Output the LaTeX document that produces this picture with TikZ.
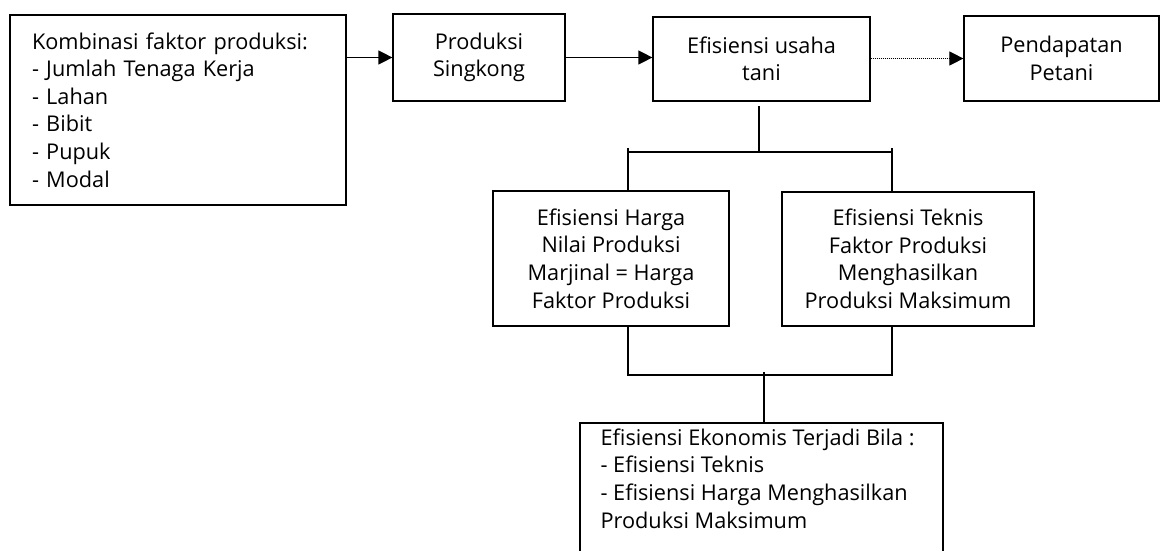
\documentclass[tikz,border=0pt]{standalone}
\usepackage{fontspec}
\setmainfont{Open Sans}
\usetikzlibrary{arrows.meta}
\begin{document}
\begin{tikzpicture}[x=1pt,y=-1pt,
  every path/.style={line width=1.2pt},
  txt/.style={inner sep=0pt,font=\fontsize{21.7}{27.6}\selectfont},
  box/.style={txt,draw,line width=1.2pt},
  arr/.style={-{Triangle[length=14pt,width=14pt]}},
  dotline/.style={arr,line width=1pt,dash pattern=on 1pt off 1pt}]
\useasboundingbox (0,0) rectangle (1160,551);
\node[box,minimum width=336pt,minimum height=190pt,text width=292pt,align=left] (b1) at (178,110)
  {Kombinasi faktor produksi:\\- Jumlah Tenaga Kerja\\- Lahan\\- Bibit\\- Pupuk\\- Modal};
\node[box,minimum width=172pt,minimum height=87pt,align=center] (b2) at (479,57.5) {Produksi\\Singkong};
\node[box,minimum width=217pt,minimum height=84pt,align=center] (b3) at (761.5,59) {Efisiensi usaha\\tani};
\node[box,minimum width=195pt,minimum height=85pt,align=center] (b4) at (1061.5,58.5) {Pendapatan\\Petani};
\node[box,minimum width=236pt,minimum height=135pt,align=center] (b5) at (611,258.5)
  {Efisiensi Harga\\Nilai Produksi\\Marjinal = Harga\\Faktor Produksi};
\node[box,minimum width=252pt,minimum height=134pt,align=center] (b6) at (908,259)
  {Efisiensi Teknis\\Faktor Produksi\\Menghasilkan\\Produksi Maksimum};
% bottom box (its lower edge lies below the picture)
\coordinate (b7tl) at (580,423);
\coordinate (b7tr) at (943,423);
\coordinate (b7bl) at (580,560);
\coordinate (b7br) at (943,560);
\draw (b7bl) -- (b7tl) -- (b7tr) -- (b7br);
\node[txt,anchor=north west,inner ysep=5pt,align=left] (b7) at (600,423)
  {Efisiensi Ekonomis Terjadi Bila :\\- Efisiensi Teknis\\- Efisiensi Harga Menghasilkan\\Produksi Maksimum};
% arrows
\draw[arr] (b1.east |- b2.west) -- (b2.west);
\draw[arr] (b2.east) -- (b2.east -| b3.west);
\draw[dotline] (b3.east |- b4.west) -- (b4.west);
% upper tree
\coordinate (a1) at (759,106);
\coordinate (hl) at (628,152);
\coordinate (hr) at (892,152);
\coordinate (tl) at (628,148);
\coordinate (tr) at (892,148);
\draw (a1) -- (a1 |- hl);
\draw (hl) -- (hr);
\draw (tl) -- (tl |- b5.north);
\draw (tr) -- (tr |- b6.north);
% lower tree
\coordinate (ll) at (628,375);
\coordinate (lr) at (892,375);
\coordinate (m) at (764,372);
\draw (ll |- b5.south) -- (ll) -- (lr) -- (lr |- b6.south);
\draw (m) -- (m |- b7tl);
\end{tikzpicture}
\end{document}
